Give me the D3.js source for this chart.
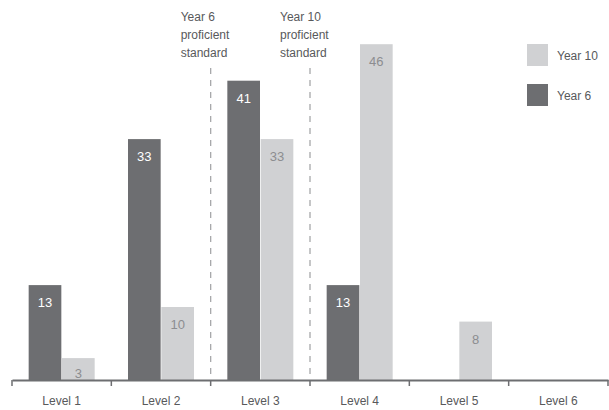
<!DOCTYPE html>
<html>
<head>
<meta charset="utf-8">
<script src="https://cdn.jsdelivr.net/npm/d3@7"></script>
<style>
  html, body { margin: 0; padding: 0; background: #fff; }
  svg { display: block; font-family: "Liberation Sans", Arial, sans-serif; }
</style>
</head>
<body>
<svg id="chart" width="609" height="410"></svg>
<script>
// Proficiency levels on the x axis
const levels = ["Level 1", "Level 2", "Level 3", "Level 4", "Level 5", "Level 6"];
// Percentage of students at each level
const year6 = [13, 33, 41, 13, null, null];
const year10 = [3, 10, 33, 46, 8, null];
const seriesNames = ["Year 6", "Year 10"];
// Proficient standards sit on the boundary before these levels
const standards = [
  { level: "Level 3", lines: ["Year 6", "proficient", "standard"] },
  { level: "Level 4", lines: ["Year 10", "proficient", "standard"] }
];

const colors = { "Year 6": "#6d6e71", "Year 10": "#d0d1d3" };
const labelColors = { "Year 6": "#ffffff", "Year 10": "#8c8d90" };

const svg = d3.select("#chart");
const axisY = 380;

const x = d3.scaleBand().domain(levels).range([12, 608]).paddingInner(0).paddingOuter(0);
const xSub = d3.scaleBand().domain(seriesNames).range([16, x.bandwidth() - 16]).padding(0.02);
const y = d3.scaleLinear().domain([0, 50]).range([axisY, 15]);

const rows = levels.map((l, i) => ({ level: l, values: [
  { series: "Year 6", value: year6[i] },
  { series: "Year 10", value: year10[i] }
]}));

// Dashed standard lines and their captions
standards.forEach(s => {
  const lx = x(s.level);
  svg.append("line")
    .attr("x1", lx).attr("x2", lx)
    .attr("y1", 68).attr("y2", axisY)
    .attr("stroke", "#a7a8aa").attr("stroke-width", 1.3)
    .attr("stroke-dasharray", "6,6");
  const t = svg.append("text")
    .attr("x", lx - 30).attr("y", 21)
    .attr("font-size", 12).attr("fill", "#58595b");
  s.lines.forEach((ln, i) => {
    t.append("tspan").attr("x", lx - 30).attr("dy", i === 0 ? 0 : 18).text(ln);
  });
});

// Bars
const groups = svg.append("g").selectAll("g").data(rows).join("g")
  .attr("transform", d => `translate(${x(d.level)},0)`);

const bars = groups.selectAll("g").data(d => d.values.filter(v => v.value != null)).join("g");
bars.append("rect")
  .attr("x", d => xSub(d.series))
  .attr("width", xSub.bandwidth())
  .attr("y", d => y(d.value))
  .attr("height", d => axisY - y(d.value))
  .attr("fill", d => colors[d.series]);
bars.append("text")
  .attr("x", d => xSub(d.series) + xSub.bandwidth() / 2)
  .attr("y", d => Math.min(y(d.value) + 22, axisY - 2))
  .attr("text-anchor", "middle")
  .attr("font-size", 13)
  .attr("fill", d => labelColors[d.series])
  .text(d => d.value);

// X axis
const axis = svg.append("g").attr("transform", `translate(0,${axisY})`)
  .call(d3.axisBottom(x).tickSize(0).tickPadding(16));
axis.select(".domain").attr("stroke", "#6d6e71").attr("stroke-width", 2.2);
axis.selectAll(".tick text").attr("font-size", 12).attr("fill", "#58595b")
  .attr("font-family", "'Liberation Sans', Arial, sans-serif");
const boundaries = levels.map(l => x(l)).concat([x.range()[1]]);
axis.selectAll(".bound").data(boundaries).join("line")
  .attr("class", "bound")
  .attr("x1", d => d).attr("x2", d => d)
  .attr("y1", 0).attr("y2", 6)
  .attr("stroke", "#6d6e71").attr("stroke-width", 1.5);

// Legend
const legend = svg.append("g").attr("transform", "translate(527,44)");
["Year 10", "Year 6"].forEach((name, i) => {
  const g = legend.append("g").attr("transform", `translate(0,${i * 40})`);
  g.append("rect").attr("width", 21).attr("height", 22).attr("fill", colors[name]);
  g.append("text").attr("x", 30).attr("y", 16)
    .attr("font-size", 12).attr("fill", "#58595b").text(name);
});
</script>
</body>
</html>
